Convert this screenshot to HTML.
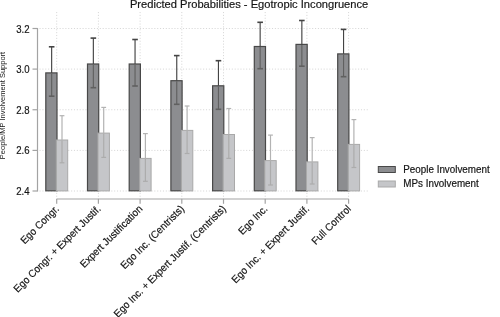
<!DOCTYPE html>
<html><head><meta charset="utf-8"><style>
html,body{margin:0;padding:0;background:#fff;}
body{width:500px;height:317px;overflow:hidden;}
svg{display:block;}
text{font-family:"Liberation Sans",sans-serif;fill:#141414;stroke:#141414;stroke-width:0.18px;}
</style></head><body>
<svg width="500" height="317" viewBox="0 0 500 317">

<line x1="39.5" y1="28.5" x2="368" y2="28.5" stroke="#d8d8d8" stroke-width="1" stroke-dasharray="1.1 1.77"/>
<line x1="39.5" y1="69.1" x2="368" y2="69.1" stroke="#d8d8d8" stroke-width="1" stroke-dasharray="1.1 1.77"/>
<line x1="39.5" y1="109.75" x2="368" y2="109.75" stroke="#d8d8d8" stroke-width="1" stroke-dasharray="1.1 1.77"/>
<line x1="39.5" y1="150.4" x2="368" y2="150.4" stroke="#d8d8d8" stroke-width="1" stroke-dasharray="1.1 1.77"/>
<line x1="39.5" y1="191.0" x2="368" y2="191.0" stroke="#d8d8d8" stroke-width="1" stroke-dasharray="1.1 1.77"/>
<line x1="56.70" y1="12" x2="56.70" y2="199" stroke="#d8d8d8" stroke-width="1" stroke-dasharray="1.1 1.77"/>
<line x1="98.40" y1="12" x2="98.40" y2="199" stroke="#d8d8d8" stroke-width="1" stroke-dasharray="1.1 1.77"/>
<line x1="140.10" y1="12" x2="140.10" y2="199" stroke="#d8d8d8" stroke-width="1" stroke-dasharray="1.1 1.77"/>
<line x1="181.80" y1="12" x2="181.80" y2="199" stroke="#d8d8d8" stroke-width="1" stroke-dasharray="1.1 1.77"/>
<line x1="223.50" y1="12" x2="223.50" y2="199" stroke="#d8d8d8" stroke-width="1" stroke-dasharray="1.1 1.77"/>
<line x1="265.20" y1="12" x2="265.20" y2="199" stroke="#d8d8d8" stroke-width="1" stroke-dasharray="1.1 1.77"/>
<line x1="306.90" y1="12" x2="306.90" y2="199" stroke="#d8d8d8" stroke-width="1" stroke-dasharray="1.1 1.77"/>
<line x1="348.60" y1="12" x2="348.60" y2="199" stroke="#d8d8d8" stroke-width="1" stroke-dasharray="1.1 1.77"/>
<line x1="37.5" y1="28.0" x2="37.5" y2="191.5" stroke="#a3a3a3" stroke-width="1.2"/>
<line x1="32.5" y1="28.5" x2="37.5" y2="28.5" stroke="#a3a3a3" stroke-width="1.2"/>
<line x1="32.5" y1="69.1" x2="37.5" y2="69.1" stroke="#a3a3a3" stroke-width="1.2"/>
<line x1="32.5" y1="109.75" x2="37.5" y2="109.75" stroke="#a3a3a3" stroke-width="1.2"/>
<line x1="32.5" y1="150.4" x2="37.5" y2="150.4" stroke="#a3a3a3" stroke-width="1.2"/>
<line x1="32.5" y1="191.0" x2="37.5" y2="191.0" stroke="#a3a3a3" stroke-width="1.2"/>
<line x1="56.70" y1="199" x2="348.60" y2="199" stroke="#a3a3a3" stroke-width="1.2"/>
<line x1="56.70" y1="199" x2="56.70" y2="203.8" stroke="#a3a3a3" stroke-width="1.2"/>
<line x1="98.40" y1="199" x2="98.40" y2="203.8" stroke="#a3a3a3" stroke-width="1.2"/>
<line x1="140.10" y1="199" x2="140.10" y2="203.8" stroke="#a3a3a3" stroke-width="1.2"/>
<line x1="181.80" y1="199" x2="181.80" y2="203.8" stroke="#a3a3a3" stroke-width="1.2"/>
<line x1="223.50" y1="199" x2="223.50" y2="203.8" stroke="#a3a3a3" stroke-width="1.2"/>
<line x1="265.20" y1="199" x2="265.20" y2="203.8" stroke="#a3a3a3" stroke-width="1.2"/>
<line x1="306.90" y1="199" x2="306.90" y2="203.8" stroke="#a3a3a3" stroke-width="1.2"/>
<line x1="348.60" y1="199" x2="348.60" y2="203.8" stroke="#a3a3a3" stroke-width="1.2"/>
<rect x="45.80" y="72.90" width="11.20" height="117.90" fill="#8c8d90" stroke="#484848" stroke-width="1.2"/>
<line x1="51.65" y1="46.80" x2="51.65" y2="72.90" stroke="#444444" stroke-width="1.15"/>
<line x1="51.65" y1="73.50" x2="51.65" y2="96.20" stroke="#606060" stroke-width="1.15"/>
<line x1="48.85" y1="46.80" x2="54.45" y2="46.80" stroke="#444444" stroke-width="1.6"/>
<line x1="48.85" y1="96.20" x2="54.45" y2="96.20" stroke="#606060" stroke-width="1.6"/>
<rect x="56.30" y="140.00" width="11.40" height="50.90" fill="#c5c6c9" stroke="#a9a9a9" stroke-width="1"/>
<line x1="62.00" y1="115.70" x2="62.00" y2="140.00" stroke="#b3b3b3" stroke-width="1.2"/>
<line x1="62.00" y1="140.50" x2="62.00" y2="162.80" stroke="#acacac" stroke-width="1.2"/>
<line x1="59.60" y1="115.70" x2="64.40" y2="115.70" stroke="#b3b3b3" stroke-width="1.2"/>
<line x1="59.60" y1="162.80" x2="64.40" y2="162.80" stroke="#acacac" stroke-width="1.2"/>
<rect x="87.50" y="64.00" width="11.20" height="126.80" fill="#8c8d90" stroke="#484848" stroke-width="1.2"/>
<line x1="93.35" y1="38.10" x2="93.35" y2="64.00" stroke="#444444" stroke-width="1.15"/>
<line x1="93.35" y1="64.60" x2="93.35" y2="87.70" stroke="#606060" stroke-width="1.15"/>
<line x1="90.55" y1="38.10" x2="96.15" y2="38.10" stroke="#444444" stroke-width="1.6"/>
<line x1="90.55" y1="87.70" x2="96.15" y2="87.70" stroke="#606060" stroke-width="1.6"/>
<rect x="98.00" y="133.10" width="11.40" height="57.80" fill="#c5c6c9" stroke="#a9a9a9" stroke-width="1"/>
<line x1="103.70" y1="107.40" x2="103.70" y2="133.10" stroke="#b3b3b3" stroke-width="1.2"/>
<line x1="103.70" y1="133.60" x2="103.70" y2="157.40" stroke="#acacac" stroke-width="1.2"/>
<line x1="101.30" y1="107.40" x2="106.10" y2="107.40" stroke="#b3b3b3" stroke-width="1.2"/>
<line x1="101.30" y1="157.40" x2="106.10" y2="157.40" stroke="#acacac" stroke-width="1.2"/>
<rect x="129.20" y="64.00" width="11.20" height="126.80" fill="#8c8d90" stroke="#484848" stroke-width="1.2"/>
<line x1="135.05" y1="39.50" x2="135.05" y2="64.00" stroke="#444444" stroke-width="1.15"/>
<line x1="135.05" y1="64.60" x2="135.05" y2="86.00" stroke="#606060" stroke-width="1.15"/>
<line x1="132.25" y1="39.50" x2="137.85" y2="39.50" stroke="#444444" stroke-width="1.6"/>
<line x1="132.25" y1="86.00" x2="137.85" y2="86.00" stroke="#606060" stroke-width="1.6"/>
<rect x="139.70" y="158.40" width="11.40" height="32.50" fill="#c5c6c9" stroke="#a9a9a9" stroke-width="1"/>
<line x1="145.40" y1="133.60" x2="145.40" y2="158.40" stroke="#b3b3b3" stroke-width="1.2"/>
<line x1="145.40" y1="158.90" x2="145.40" y2="181.30" stroke="#acacac" stroke-width="1.2"/>
<line x1="143.00" y1="133.60" x2="147.80" y2="133.60" stroke="#b3b3b3" stroke-width="1.2"/>
<line x1="143.00" y1="181.30" x2="147.80" y2="181.30" stroke="#acacac" stroke-width="1.2"/>
<rect x="170.90" y="80.70" width="11.20" height="110.10" fill="#8c8d90" stroke="#484848" stroke-width="1.2"/>
<line x1="176.75" y1="55.60" x2="176.75" y2="80.70" stroke="#444444" stroke-width="1.15"/>
<line x1="176.75" y1="81.30" x2="176.75" y2="104.30" stroke="#606060" stroke-width="1.15"/>
<line x1="173.95" y1="55.60" x2="179.55" y2="55.60" stroke="#444444" stroke-width="1.6"/>
<line x1="173.95" y1="104.30" x2="179.55" y2="104.30" stroke="#606060" stroke-width="1.6"/>
<rect x="181.40" y="130.40" width="11.40" height="60.50" fill="#c5c6c9" stroke="#a9a9a9" stroke-width="1"/>
<line x1="187.10" y1="106.00" x2="187.10" y2="130.40" stroke="#b3b3b3" stroke-width="1.2"/>
<line x1="187.10" y1="130.90" x2="187.10" y2="153.50" stroke="#acacac" stroke-width="1.2"/>
<line x1="184.70" y1="106.00" x2="189.50" y2="106.00" stroke="#b3b3b3" stroke-width="1.2"/>
<line x1="184.70" y1="153.50" x2="189.50" y2="153.50" stroke="#acacac" stroke-width="1.2"/>
<rect x="212.60" y="85.80" width="11.20" height="105.00" fill="#8c8d90" stroke="#484848" stroke-width="1.2"/>
<line x1="218.45" y1="60.70" x2="218.45" y2="85.80" stroke="#444444" stroke-width="1.15"/>
<line x1="218.45" y1="86.40" x2="218.45" y2="109.30" stroke="#606060" stroke-width="1.15"/>
<line x1="215.65" y1="60.70" x2="221.25" y2="60.70" stroke="#444444" stroke-width="1.6"/>
<line x1="215.65" y1="109.30" x2="221.25" y2="109.30" stroke="#606060" stroke-width="1.6"/>
<rect x="223.10" y="134.50" width="11.40" height="56.40" fill="#c5c6c9" stroke="#a9a9a9" stroke-width="1"/>
<line x1="228.80" y1="108.50" x2="228.80" y2="134.50" stroke="#b3b3b3" stroke-width="1.2"/>
<line x1="228.80" y1="135.00" x2="228.80" y2="158.40" stroke="#acacac" stroke-width="1.2"/>
<line x1="226.40" y1="108.50" x2="231.20" y2="108.50" stroke="#b3b3b3" stroke-width="1.2"/>
<line x1="226.40" y1="158.40" x2="231.20" y2="158.40" stroke="#acacac" stroke-width="1.2"/>
<rect x="254.30" y="46.50" width="11.20" height="144.30" fill="#8c8d90" stroke="#484848" stroke-width="1.2"/>
<line x1="260.15" y1="22.30" x2="260.15" y2="46.50" stroke="#444444" stroke-width="1.15"/>
<line x1="260.15" y1="47.10" x2="260.15" y2="68.70" stroke="#606060" stroke-width="1.15"/>
<line x1="257.35" y1="22.30" x2="262.95" y2="22.30" stroke="#444444" stroke-width="1.6"/>
<line x1="257.35" y1="68.70" x2="262.95" y2="68.70" stroke="#606060" stroke-width="1.6"/>
<rect x="264.80" y="160.60" width="11.40" height="30.30" fill="#c5c6c9" stroke="#a9a9a9" stroke-width="1"/>
<line x1="270.50" y1="135.10" x2="270.50" y2="160.60" stroke="#b3b3b3" stroke-width="1.2"/>
<line x1="270.50" y1="161.10" x2="270.50" y2="185.00" stroke="#acacac" stroke-width="1.2"/>
<line x1="268.10" y1="135.10" x2="272.90" y2="135.10" stroke="#b3b3b3" stroke-width="1.2"/>
<line x1="268.10" y1="185.00" x2="272.90" y2="185.00" stroke="#acacac" stroke-width="1.2"/>
<rect x="296.00" y="44.40" width="11.20" height="146.40" fill="#8c8d90" stroke="#484848" stroke-width="1.2"/>
<line x1="301.85" y1="20.50" x2="301.85" y2="44.40" stroke="#444444" stroke-width="1.15"/>
<line x1="301.85" y1="45.00" x2="301.85" y2="66.20" stroke="#606060" stroke-width="1.15"/>
<line x1="299.05" y1="20.50" x2="304.65" y2="20.50" stroke="#444444" stroke-width="1.6"/>
<line x1="299.05" y1="66.20" x2="304.65" y2="66.20" stroke="#606060" stroke-width="1.6"/>
<rect x="306.50" y="161.90" width="11.40" height="29.00" fill="#c5c6c9" stroke="#a9a9a9" stroke-width="1"/>
<line x1="312.20" y1="137.60" x2="312.20" y2="161.90" stroke="#b3b3b3" stroke-width="1.2"/>
<line x1="312.20" y1="162.40" x2="312.20" y2="184.00" stroke="#acacac" stroke-width="1.2"/>
<line x1="309.80" y1="137.60" x2="314.60" y2="137.60" stroke="#b3b3b3" stroke-width="1.2"/>
<line x1="309.80" y1="184.00" x2="314.60" y2="184.00" stroke="#acacac" stroke-width="1.2"/>
<rect x="337.70" y="53.90" width="11.20" height="136.90" fill="#8c8d90" stroke="#484848" stroke-width="1.2"/>
<line x1="343.55" y1="29.40" x2="343.55" y2="53.90" stroke="#444444" stroke-width="1.15"/>
<line x1="343.55" y1="54.50" x2="343.55" y2="76.70" stroke="#606060" stroke-width="1.15"/>
<line x1="340.75" y1="29.40" x2="346.35" y2="29.40" stroke="#444444" stroke-width="1.6"/>
<line x1="340.75" y1="76.70" x2="346.35" y2="76.70" stroke="#606060" stroke-width="1.6"/>
<rect x="348.20" y="144.40" width="11.40" height="46.50" fill="#c5c6c9" stroke="#a9a9a9" stroke-width="1"/>
<line x1="353.90" y1="119.60" x2="353.90" y2="144.40" stroke="#b3b3b3" stroke-width="1.2"/>
<line x1="353.90" y1="144.90" x2="353.90" y2="167.50" stroke="#acacac" stroke-width="1.2"/>
<line x1="351.50" y1="119.60" x2="356.30" y2="119.60" stroke="#b3b3b3" stroke-width="1.2"/>
<line x1="351.50" y1="167.50" x2="356.30" y2="167.50" stroke="#acacac" stroke-width="1.2"/>
<rect x="378.3" y="166.5" width="17" height="6" fill="#8c8d90" stroke="#484848" stroke-width="1"/>
<rect x="378.3" y="181" width="17" height="6" fill="#c5c6c9" stroke="#a9a9a9" stroke-width="1"/>
<defs><filter id="gs" x="0" y="0" width="500" height="317" filterUnits="userSpaceOnUse"><feColorMatrix type="saturate" values="0"/></filter></defs>
<g filter="url(#gs)">
<text transform="translate(249.1,8.4) scale(1,1.045)" font-size="11.15" text-anchor="middle">Predicted Probabilities - Egotropic Incongruence</text>
<text transform="translate(29.5,32.50) scale(0.94,1)" font-size="10.2" text-anchor="end">3.2</text>
<text transform="translate(29.5,73.10) scale(0.94,1)" font-size="10.2" text-anchor="end">3.0</text>
<text transform="translate(29.5,113.75) scale(0.94,1)" font-size="10.2" text-anchor="end">2.8</text>
<text transform="translate(29.5,154.40) scale(0.94,1)" font-size="10.2" text-anchor="end">2.6</text>
<text transform="translate(29.5,195.00) scale(0.94,1)" font-size="10.2" text-anchor="end">2.4</text>
<text transform="translate(5.1,105.5) rotate(-90)" font-size="7.5" style="stroke:none" text-anchor="middle">People/MP Involvement Support</text>
<text transform="translate(59.70,209.45) rotate(-45) scale(1,1.04)" font-size="9.92" text-anchor="end">Ego Congr.</text>
<text transform="translate(101.40,209.45) rotate(-45) scale(1,1.04)" font-size="9.92" text-anchor="end">Ego Congr. + Expert Justif.</text>
<text transform="translate(143.10,209.45) rotate(-45) scale(1,1.04)" font-size="9.92" text-anchor="end">Expert Justification</text>
<text transform="translate(184.80,209.45) rotate(-45) scale(1,1.04)" font-size="9.92" text-anchor="end">Ego Inc. (Centrists)</text>
<text transform="translate(226.50,209.45) rotate(-45) scale(1,1.04)" font-size="9.92" text-anchor="end">Ego Inc. + Expert Justif. (Centrists)</text>
<text transform="translate(268.20,209.45) rotate(-45) scale(1,1.04)" font-size="9.92" text-anchor="end">Ego Inc.</text>
<text transform="translate(309.90,209.45) rotate(-45) scale(1,1.04)" font-size="9.92" text-anchor="end">Ego Inc. + Expert Justif.</text>
<text transform="translate(351.60,209.45) rotate(-45) scale(1,1.04)" font-size="9.92" text-anchor="end">Full Control</text>
<text transform="translate(403.3,172.95) scale(1,1.045)" font-size="9.85">People Involvement</text>
<text transform="translate(403.3,187.05) scale(1,1.045)" font-size="9.85">MPs Involvement</text>
</g>
</svg></body></html>
